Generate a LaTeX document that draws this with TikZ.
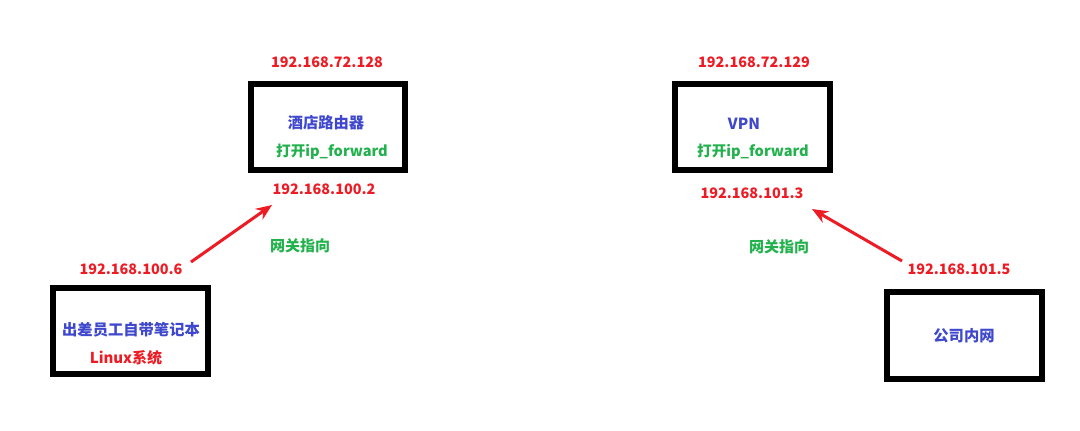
\documentclass[tikz,border=0pt]{standalone}
\usepackage{fontspec}
\setmainfont{Noto Sans CJK SC}
\usetikzlibrary{arrows.meta}
\definecolor{pred}{HTML}{ED1C24}
\definecolor{pblue}{HTML}{3F48CC}
\definecolor{pgreen}{HTML}{22B14C}
\tikzset{
  box/.style={draw=black, line width=5.5pt},
  ip/.style={text=pred, font=\fontsize{14.4}{16}\selectfont\bfseries, inner sep=0pt},
  lbl/.style={text=pblue, font=\fontsize{15.3}{17}\selectfont\bfseries, inner sep=0pt},
  grn/.style={text=pgreen, font=\fontsize{14.6}{16}\selectfont\bfseries, inner sep=0pt},
  gw/.style={text=pgreen, font=\fontsize{15}{17}\selectfont\bfseries, inner sep=0pt},
  rarrow/.style={draw=pred, line width=3pt, -{Stealth[length=16pt,width=13pt]}},
}
\begin{document}
\begin{tikzpicture}[x=1pt,y=-1pt]
\useasboundingbox (0,0) rectangle (1080,431);
% boxes
\draw[box] (251,84) rectangle (405,170);
\draw[box] (675,84) rectangle (830,170);
\draw[box] (53,288) rectangle (208,374);
\draw[box] (887,292) rectangle (1042,379);
% router
\node[ip] (ip1) at (327,62) {192.168.72.128};
\node[lbl] (r1) at (326,123) {酒店路由器};
\node[grn] (f1) at (332,152) {打开ip\_forward};
\node[ip] (ip2) at (324,189) {192.168.100.2};
% vpn
\node[ip] (ip3) at (754,62) {192.168.72.129};
\node[lbl] (r2) at (744,124) {VPN};
\node[grn] (f2) at (753,152) {打开ip\_forward};
\node[ip] (ip4) at (752,193) {192.168.101.3};
% gateway labels
\node[gw] (g1) at (300,246) {网关指向};
\node[gw] (g2) at (779,247) {网关指向};
% laptop
\node[ip] (ip5) at (131,269) {192.168.100.6};
\node[lbl] (l1) at (131,330) {出差员工自带笔记本};
\node[ip, font=\fontsize{15}{17}\selectfont\bfseries] (l2) at (126,358) {Linux系统};
% intranet
\node[ip] (ip6) at (959,269) {192.168.101.5};
\node[lbl] (n1) at (964,336) {公司内网};
% arrows
\coordinate (a1s) at (191,262);
\coordinate (a1e) at (272,205);
\coordinate (a2s) at (902,261);
\coordinate (a2e) at (812,209);
\draw[rarrow] (a1s) -- (a1e);
\draw[rarrow] (a2s) -- (a2e);
\end{tikzpicture}
\end{document}
